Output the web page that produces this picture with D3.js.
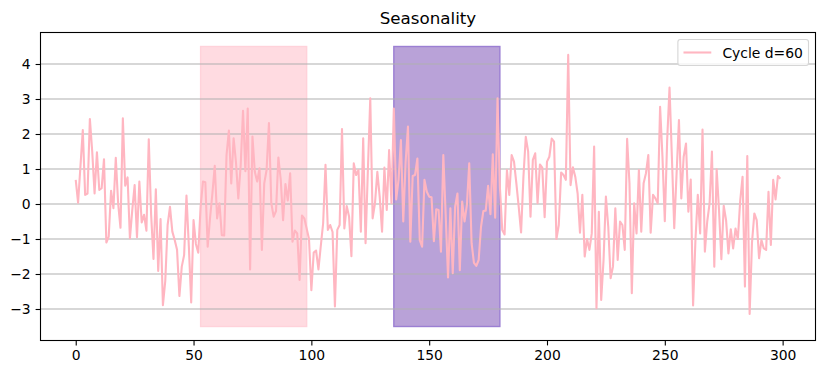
<!DOCTYPE html>
<html>
<head>
<meta charset="utf-8">
<script src="https://cdn.jsdelivr.net/npm/d3@7"></script>
<style>
  body { margin: 0; background: #fff; }
  svg { display: block; font-family: "DejaVu Sans", sans-serif; }
</style>
</head>
<body>
<svg width="825" height="374"></svg>
<script>
let width = 825, height = 374;

// values, one per index 0..299
let values = [
  0.69, 0.04, 1.07, 2.11, 0.26, 0.30, 2.43, 1.50, 0.30, 1.48,
  0.40, 0.45, 1.28, -1.10, -0.93, 0.38, -0.12, 1.32, 0.02, -0.68,
  2.45, 0.52, 0.76, -0.98, -0.17, 0.54, -0.95, 0.64, -0.53, -0.31,
  -0.76, 1.85, -0.30, -1.57, 0.42, -1.91, -0.43, -2.89, -2.20, -0.60,
  -0.08, -0.79, -1.03, -1.31, -2.63, -1.79, -1.46, 0.24, -1.20, -2.81,
  -0.46, -1.14, -1.39, -0.08, 0.64, 0.62, -1.22, -0.40, 0.30, 1.09,
  -0.41, 0.02, -0.89, -0.90, 1.40, 2.10, 0.59, 1.88, 1.20, 0.16,
  1.10, 2.66, 0.94, 2.73, -1.87, 1.93, 0.92, 0.64, 1.02, -1.31,
  0.59, 0.97, 2.31, 0.02, -0.36, -0.20, 1.33, 0.70, -0.46, 0.57,
  0.10, 0.88, -1.08, -0.76, -0.84, -2.17, -0.33, -0.41, -0.70, -1.00,
  -2.46, -1.39, -1.33, -1.87, -1.20, -0.55, 1.12, -0.74, -0.60, -0.80,
  -2.93, -0.74, -0.60, 2.14, -0.70, -0.06, -0.36, -1.49, 1.16, 0.83,
  0.97, -0.79, 1.88, -1.12, 1.00, 3.02, -0.41, 0.02, 0.92, 0.21,
  -0.79, 1.04, -0.17, 1.54, 0.02, 2.73, 0.13, 0.69, 1.83, -0.50,
  1.20, 2.21, -1.08, 0.80, 0.83, 1.30, -1.03, -1.22, 0.69, 0.35,
  0.21, 0.19, -1.06, -0.15, -0.17, -1.36, 1.40, -0.30, -2.10, -0.12,
  -1.98, -0.08, 0.30, -1.89, 0.07, -0.50, -0.03, 1.16, -1.12, -1.68,
  -1.77, -1.60, -0.65, -0.20, -0.19, 0.52, -0.29, 1.42, -0.39, 3.02,
  0.50, -0.74, -0.87, 0.97, 0.26, 1.40, 1.21, 0.59, -0.08, -0.81,
  0.78, 1.92, 1.50, -0.36, 1.26, 1.45, 0.02, 1.13, 1.04, -0.38,
  1.21, 1.35, 1.87, 1.78, -1.00, -0.60, 0.90, 0.83, 0.69, 4.26,
  0.54, 1.05, 0.78, 0.30, -0.82, 0.26, -1.50, -1.00, -1.31, -0.84,
  1.64, -2.98, -0.22, -2.74, -1.60, 0.21, -0.65, -2.12, -1.79, -0.12,
  -1.60, -0.50, -0.60, -1.31, 1.86, 0.60, -2.55, 0.02, -0.84, 0.97,
  -0.79, 0.59, 0.88, 1.40, -0.82, 0.26, 0.16, 0.02, 2.78, 1.35,
  -0.49, 1.83, 3.33, 1.35, -0.69, 0.88, 2.40, 0.16, 1.35, 1.73,
  -0.22, 0.70, -2.90, -1.03, 0.26, -0.84, 2.13, -1.36, -0.50, 0.02,
  1.50, -1.79, 0.99, -0.17, -1.58, -0.05, -0.46, -1.41, -0.72, -1.27,
  -0.70, -1.00, 0.10, 0.78, -2.36, 1.37, -3.14, -1.10, -0.27, -0.46,
  -1.55, -1.03, -1.27, -1.31, 0.35, -1.17, 0.69, 0.13, 0.80, 0.72
];

// shaded spans (x from, x to, y from, y to)
let spanStart = [53, 135];
let spanEnd = [98, 180];
let spanLow = [-3.5, -3.5];
let spanHigh = [4.5, 4.5];

let xTicks = [0, 50, 100, 150, 200, 250, 300];
let yTicks = [-3, -2, -1, 0, 1, 2, 3, 4];
let seriesName = "Cycle d=60";
let title = "Seasonality";

let svg = d3.select("svg")
    .attr("viewBox", "0 0 " + width + " " + height);

let plotLeft = 40.5, plotRight = 815.5, plotTop = 32.5, plotBottom = 340.5;

let x = d3.scaleLinear().domain([-14.95, 313.95]).range([plotLeft, plotRight]);
let y = d3.scaleLinear().domain([-3.9, 4.9]).range([plotBottom, plotTop]);

// Spans
let spanFill = ["#ffdbe1", "#b9a2d8"];
let spanStroke = ["#ffd2da", "#9b7fd3"];
svg.append("g").selectAll("rect")
    .data(d3.range(spanStart.length))
    .enter().append("rect")
    .attr("x", i => x(spanStart[i]))
    .attr("y", i => y(spanHigh[i]))
    .attr("width", i => x(spanEnd[i]) - x(spanStart[i]))
    .attr("height", i => y(spanLow[i]) - y(spanHigh[i]))
    .attr("fill", i => spanFill[i])
    .attr("stroke", i => spanStroke[i])
    .attr("stroke-width", 1.4);

// Grid (horizontal only)
svg.append("g").selectAll("line")
    .data(yTicks)
    .enter().append("line")
    .attr("x1", plotLeft).attr("x2", plotRight)
    .attr("y1", d => y(d)).attr("y2", d => y(d))
    .attr("stroke", "#b0b0b0")
    .attr("stroke-width", 1.1);

// The line
let line = d3.line()
    .x((d, i) => x(i))
    .y(d => y(d));

svg.append("path")
    .datum(values)
    .attr("d", line)
    .attr("fill", "none")
    .attr("stroke", "#ffb6c1")
    .attr("stroke-width", 2.1)
    .attr("stroke-linejoin", "round");

// Axes
let fmt = d3.format("d");
let xAxis = svg.append("g")
    .attr("transform", "translate(0," + plotBottom + ")")
    .call(d3.axisBottom(x).tickValues(xTicks).tickFormat(fmt)
        .tickSize(4.9).tickPadding(4.9).tickSizeOuter(0));
let yAxis = svg.append("g")
    .attr("transform", "translate(" + plotLeft + ",0)")
    .call(d3.axisLeft(y).tickValues(yTicks).tickFormat(fmt)
        .tickSize(4.9).tickPadding(4.9).tickSizeOuter(0));

[xAxis, yAxis].forEach(a => {
    a.select(".domain").remove();
    a.selectAll("line").attr("stroke", "#000").attr("stroke-width", 1.1);
    a.selectAll("text")
        .attr("fill", "#000")
        .style("font-size", "13.9px")
        .style("font-family", "DejaVu Sans, sans-serif");
});

// Frame
svg.append("rect")
    .attr("x", plotLeft).attr("y", plotTop)
    .attr("width", plotRight - plotLeft).attr("height", plotBottom - plotTop)
    .attr("fill", "none")
    .attr("stroke", "#000")
    .attr("stroke-width", 1.1);

// Title
svg.append("text")
    .attr("x", (plotLeft + plotRight) / 2)
    .attr("y", 24)
    .attr("text-anchor", "middle")
    .style("font-size", "16.7px")
    .text(title);

// Legend
let legend = svg.append("g");
let legendRight = plotRight - 7;
let legendTop = plotTop + 7;
let legendBox = legend.append("rect");
let legendText = legend.append("text")
    .style("font-size", "13.9px")
    .attr("dominant-baseline", "central")
    .text(seriesName);
let textW = legendText.node().getComputedTextLength();
let legendW = 5.6 + 27.8 + 11.1 + textW + 5.6;
let legendLeft = legendRight - legendW;
let legendH = 26;

legendBox
    .attr("x", legendLeft).attr("y", legendTop)
    .attr("width", legendW).attr("height", legendH)
    .attr("rx", 2.5)
    .attr("fill", "#fff").attr("fill-opacity", 0.8)
    .attr("stroke", "#d6d6d6")
    .attr("stroke-width", 1.1);

legend.append("line")
    .attr("x1", legendLeft + 5.6).attr("x2", legendLeft + 5.6 + 27.8)
    .attr("y1", legendTop + legendH / 2).attr("y2", legendTop + legendH / 2)
    .attr("stroke", "#ffb6c1")
    .attr("stroke-width", 2.1);

legendText
    .attr("x", legendLeft + 5.6 + 27.8 + 11.1)
    .attr("y", legendTop + legendH / 2);
</script>
</body>
</html>
